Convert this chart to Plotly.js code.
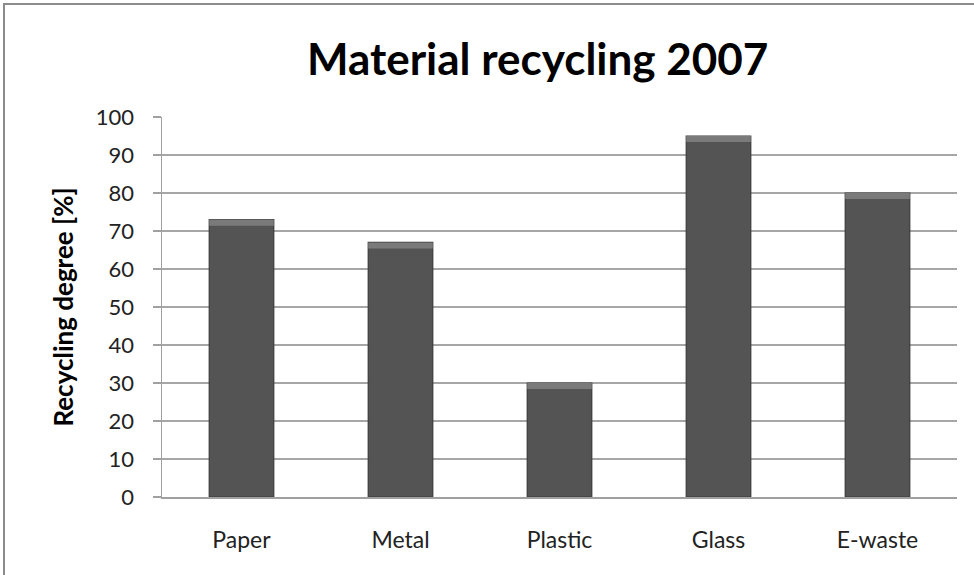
<!DOCTYPE html>
<html>
<head>
<meta charset="utf-8">
<script src="https://cdn.plot.ly/plotly-3.0.1.min.js"></script>
<style>html,body{margin:0;padding:0;background:#fff;}#chart{width:974px;height:575px;}</style>
</head>
<body>
<div id="chart"></div>
<script>
const categories = ["Paper", "Metal", "Plastic", "Glass", "E-waste"];
const recycling = [73, 67, 30, 95, 80];
const yTicks = [0, 10, 20, 30, 40, 50, 60, 70, 80, 90, 100];

const L = 162, R = 957, T = 117, B = 497, W = 974, H = 575;
const px = v => (v - L) / (R - L);
const py = v => (B - v) / (B - T);

const bevel = 1.6;
const traces = [
  {
    type: "bar", x: categories, y: recycling,
    marker: { color: "#545454", line: { color: "#3a3a3a", width: 1.2 } },
    hoverinfo: "x+y", showlegend: false
  },
  {
    type: "bar", x: categories,
    y: recycling.map(() => bevel),
    base: recycling.map(v => v - bevel),
    marker: { color: "#7a7a7a", line: { color: "#3a3a3a", width: 0 } },
    hoverinfo: "skip", showlegend: false
  }
];

const layout = {
  width: W, height: H,
  margin: { l: L, r: W - R, t: T, b: H - B },
  paper_bgcolor: "#ffffff", plot_bgcolor: "#ffffff",
  barmode: "overlay", bargap: 0.594,
  font: { family: "Lato, 'Open Sans', sans-serif", color: "#222222", size: 22 },
  title: {
    text: "<b>Material recycling 2007</b>",
    font: { family: "Lato, 'Open Sans', sans-serif", size: 44, color: "#000000" },
    x: 0.552, xanchor: "center", xref: "container",
    y: 1 - 60 / H, yanchor: "middle", yref: "container"
  },
  xaxis: {
    type: "category", showgrid: false, zeroline: false,
    showline: true, linecolor: "#a0a0a0", linewidth: 1.5,
    ticks: "", ticklabelstandoff: 22,
    tickfont: { size: 23, color: "#222222" }
  },
  yaxis: {
    range: [0, 100], tickvals: yTicks, ticktext: yTicks.map(String),
    showgrid: true, gridcolor: "#a6a6a6", gridwidth: 1.5,
    zeroline: false, showline: true, linecolor: "#a0a0a0", linewidth: 1.5,
    ticks: "outside", ticklen: 8, tickcolor: "#a0a0a0", tickwidth: 1.5,
    ticklabelstandoff: 14,
    tickfont: { size: 22, color: "#222222" },
    title: { text: "<b>Recycling degree [%]</b>", font: { size: 26, color: "#000000" }, standoff: 14 }
  },
  shapes: [
    {
      type: "rect", xref: "paper", yref: "paper",
      x0: px(4), x1: px(1100), y0: py(700), y1: py(4),
      line: { color: "#8c8c8c", width: 2 }, fillcolor: "rgba(0,0,0,0)", layer: "below"
    }
  ]
};

Plotly.newPlot("chart", traces, layout, { displayModeBar: false, staticPlot: true });
</script>
</body>
</html>
